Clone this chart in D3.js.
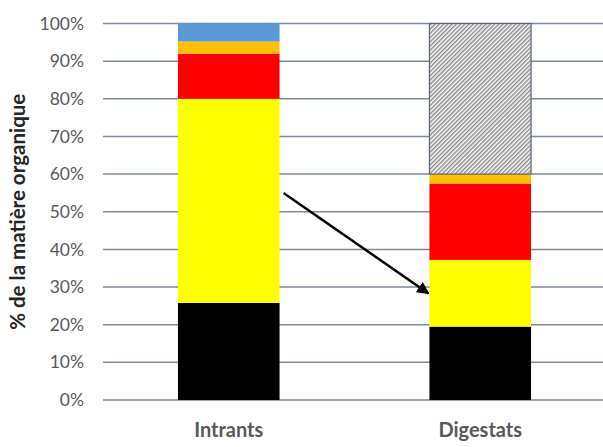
<!DOCTYPE html>
<html>
<head>
<meta charset="utf-8">
<script src="https://cdn.jsdelivr.net/npm/d3@7"></script>
<style>
  body { margin: 0; background: #fff; }
  text { font-family: Lato, "Open Sans", sans-serif; }
</style>
</head>
<body>
<svg id="chart" width="603" height="447"></svg>
<script>
const categories = ["Intrants", "Digestats"];
const noir = [0.258, 0.195];
const jaune = [0.542, 0.177];
const rouge = [0.12, 0.203];
const orange = [0.032, 0.025];
const bleu = [0.048, 0];
const reste = [0, 0.4];
const yTicks = [0, 0.1, 0.2, 0.3, 0.4, 0.5, 0.6, 0.7, 0.8, 0.9, 1];
const arrowFrom = { cat: "Intrants", value: 0.55 };
const arrowTo = { cat: "Digestats", value: 0.283 };

const series = [
  { key: "noir", values: noir, fill: "#000000" },
  { key: "jaune", values: jaune, fill: "#ffff00" },
  { key: "rouge", values: rouge, fill: "#ff0000" },
  { key: "orange", values: orange, fill: "#ffc000" },
  { key: "bleu", values: bleu, fill: "#5b9bd5" },
  { key: "reste", values: reste, fill: "url(#hatch)" },
];

const svg = d3.select("#chart");
const plot = { left: 103, right: 603, top: 23.5, bottom: 400 };

const table = categories.map((c, i) => {
  const row = { cat: c };
  series.forEach((s) => (row[s.key] = s.values[i]));
  return row;
});
const stacked = d3.stack().keys(series.map((s) => s.key))(table);

const x = d3.scaleBand().domain(categories).range([plot.left, 606])
  .paddingInner(0.596).paddingOuter(0.298);
const y = d3.scaleLinear().domain([0, 1]).range([plot.bottom, plot.top]);

const defs = svg.append("defs");
const pat = defs.append("pattern")
  .attr("id", "hatch")
  .attr("patternUnits", "userSpaceOnUse")
  .attr("width", 3).attr("height", 3)
  .attr("patternTransform", "rotate(45)");
pat.append("rect").attr("width", 3).attr("height", 3).attr("fill", "#fff");
pat.append("line").attr("x1", 0.75).attr("y1", 0).attr("x2", 0.75).attr("y2", 3)
  .attr("stroke", "#8c8c8c").attr("stroke-width", 1.5);

defs.append("marker")
  .attr("id", "head")
  .attr("viewBox", "0 0 10 10")
  .attr("refX", 9).attr("refY", 5)
  .attr("markerWidth", 5).attr("markerHeight", 5)
  .attr("orient", "auto")
  .append("path").attr("d", "M0,0 L10,5 L0,10 z").attr("fill", "#000");

// grid
svg.append("g")
  .selectAll("line")
  .data(yTicks)
  .join("line")
  .attr("x1", plot.left).attr("x2", plot.right)
  .attr("y1", (d) => y(d)).attr("y2", (d) => y(d))
  .attr("stroke", "#7b8aa0")
  .attr("stroke-width", 1.5);

// y labels
svg.append("g")
  .selectAll("text")
  .data(yTicks)
  .join("text")
  .attr("x", 84)
  .attr("y", (d) => y(d))
  .attr("dy", "0.35em")
  .attr("text-anchor", "end")
  .attr("fill", "#595959")
  .style("font-size", "17.5px")
  .text(d3.format(".0%"));

// bars
const layers = svg.append("g")
  .selectAll("g")
  .data(stacked)
  .join("g")
  .attr("fill", (d, i) => series[i].fill);

layers.selectAll("rect")
  .data((d) => d.filter((p) => p[1] - p[0] > 0))
  .join("rect")
  .attr("x", (d) => x(d.data.cat))
  .attr("width", x.bandwidth())
  .attr("y", (d) => y(d[1]))
  .attr("height", (d) => y(d[0]) - y(d[1]));

layers.filter((d) => d.key === "reste")
  .selectAll("rect")
  .attr("stroke", "#5a6678")
  .attr("stroke-width", 1.2);

// x labels
svg.append("g")
  .selectAll("text")
  .data(categories)
  .join("text")
  .attr("x", (d) => x(d) + x.bandwidth() / 2)
  .attr("y", 437)
  .attr("text-anchor", "middle")
  .attr("fill", "#595959")
  .style("font-size", "20px")
  .style("font-weight", "bold")
  .text((d) => d);

// y title
svg.append("text")
  .attr("transform", `translate(25,${(plot.top + plot.bottom) / 2}) rotate(-90)`)
  .attr("text-anchor", "middle")
  .attr("fill", "#262626")
  .style("font-size", "20.5px")
  .style("font-weight", "bold")
  .text("% de la matière organique");

// arrow
svg.append("line")
  .attr("x1", x(arrowFrom.cat) + x.bandwidth() + 4)
  .attr("y1", y(arrowFrom.value))
  .attr("x2", x(arrowTo.cat) - 1)
  .attr("y2", y(arrowTo.value))
  .attr("stroke", "#000")
  .attr("stroke-width", 2.5)
  .attr("marker-end", "url(#head)");
</script>
</body>
</html>
